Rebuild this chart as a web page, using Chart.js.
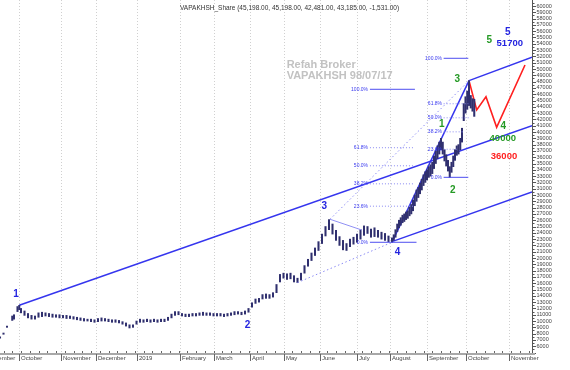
<!DOCTYPE html>
<html>
<head>
<meta charset="utf-8">
<script src="https://cdn.jsdelivr.net/npm/chart.js@4.4.1/dist/chart.umd.min.js"></script>
<style>
html,body{margin:0;padding:0;background:#fff;}
#wrap{width:570px;height:370px;}
</style>
</head>
<body>
<div id="wrap"><canvas id="c" width="570" height="370"></canvas></div>
<script>
// ---------- DATA ----------
// trading-session index of each bar
const sessions = [0,2,4,7,8,10,11,
  12,14,16,18,20,22,24,26,28,30,32,34,36,38,40,42,44,46,48,50,52,54,56,58,60,62,64,66,68,70,
  72,74,76,78,80,82,84,86,88,90,92,94,96,98,100,102,104,106,108,110,112,114,116,118,120,122,124,126,128,130,
  132,134,136,138,140,142,144,146,148,150,152,154,156,158,160,162,164,166,168,170,172,174,176,178,180,182,184,186,188,190,
  192,194,196,198,200,202,204,206,208,210,212,214,216,218,220,222,224,
  225,226,227,228,229,230,231,232,233,234,235,236,237,238,239,240,241,242,243,244,245,246,247,248,249,250,
  251,252,253,254,255,256,257,258,259,260,261,262,263,264,265,266,267,268,269,270,271];
const lows = [7300,7900,9000,10100,10300,11500,11800,
  11300,10900,10500,10300,10300,10600,10700,10800,10700,10600,10600,10500,10500,10400,10400,10300,10200,10100,10000,10000,9900,9800,9900,10000,10000,9900,9800,9800,9700,9500,
  9200,8900,9000,9500,9800,9800,9900,9800,9900,9800,9900,9900,10100,10500,10900,11000,10800,10700,10700,10800,10800,10900,10900,10900,10900,10800,10800,10800,10700,10800,
  10900,11000,11100,11000,11100,11400,12200,12800,13000,13500,13600,13600,13800,14500,16200,16800,16600,16700,16200,16100,16500,17600,18700,19600,20400,21200,22300,23500,24500,23800,
  22800,22000,21300,21200,21800,22200,22500,23000,23600,23900,23300,23400,23300,23000,22800,22600,22500,
  22800,23300,24200,24800,25200,25600,25800,26100,26300,26700,27000,27500,28300,29000,29600,30200,30800,31500,32000,32400,32800,33000,33400,34200,35000,35800,
  36500,37200,36500,35400,34600,33800,32800,33600,34500,35500,36300,36500,37200,38400,41800,43000,43600,44200,43800,43300,42481];
const highs = [7500,8100,9200,10800,11000,12300,12500,
  12000,11600,11200,10900,10800,11300,11400,11300,11200,11100,11000,11000,10900,10900,10800,10700,10600,10500,10400,10300,10300,10200,10400,10500,10400,10300,10200,10200,10100,9900,
  9700,9400,9400,10000,10300,10200,10300,10200,10300,10200,10300,10300,10600,11100,11500,11500,11200,11100,11100,11200,11200,11300,11400,11300,11300,11200,11200,11200,11100,11200,
  11300,11500,11500,11400,11600,12000,12900,13500,13600,14200,14300,14200,14500,15800,17400,17600,17500,17600,17200,16800,17600,18800,19800,20800,21600,22600,23800,25000,26100,25400,
  24400,23400,22800,22300,23000,23300,23800,24500,25100,25000,24600,24800,24400,24100,23900,23500,23200,
  23700,24500,25400,26000,26400,26800,27000,27300,27500,28100,28500,29200,30000,30800,31200,31900,32500,33200,33700,34000,34500,34800,35200,36200,37000,37800,
  38400,39000,38400,37200,36400,35500,34500,35200,36200,37200,37800,38000,39000,40600,44500,45600,46500,48150,45800,45300,45198];

// last bar: open, high, low, close, change
const lastBar = [45198, 45198, 42481, 43185, -1531];

// month axis
const monthNames  = ['September','October','November','December','2019','February','March','April','May','June','July','August','September','October','November'];
const monthStarts = [-9, 11, 35, 55, 78, 103, 122, 143, 162, 183, 204, 223, 244, 266, 291];

// y-axis tick labels
const yTickValues = [];
for (let v = 6000; v <= 60000; v += 1000) yTickValues.push(v);

// trend lines  [session, value] pairs
const line1Pts      = [[11, 12500], [304, 41000]];
const upperChanPts  = [[268, 48150], [304, 51860]];
const lowerChanPts  = [[224, 22600], [304, 30480]];
const steepPts      = [[224, 22500], [268, 48150]];
const lightPts      = [[188.6, 26150], [206.7, 24450]];
const dotLowPts     = [[170, 16100], [224, 22500]];
const dotHighPts    = [[188.6, 26150], [268, 48150]];
const redPathPts    = [[268, 48150], [272.4, 43500], [277.7, 45600], [283.8, 40750], [300, 50640]];

// Fibonacci retracements
const fibRatios = [0, 0.236, 0.382, 0.5, 0.618, 1];
const fibA = {low: 22500, high: 46780};
const fibB = {low: 32810, high: 51700};

// ---------- CHART ----------
const P = (arr) => arr.map(p => ({x: p[0], y: p[1]}));

function fibDatasets(fib, startS, endS) {
  return fibRatios.map((r, i) => {
    const v = fib.low + (fib.high - fib.low) * r;
    const solid = (r === 0 || r === 1);
    return {
      type: 'line',
      data: [{x: startS, y: v}, {x: endS[i], y: v}],
      borderColor: solid ? '#4d4df0' : '#8a8af2',
      borderWidth: 1,
      borderDash: solid ? [] : [1, 2],
      pointRadius: 0
    };
  });
}

const lineDs = (pts, color, width, dash) => ({
  type: 'line', data: P(pts), borderColor: color, borderWidth: width,
  borderDash: dash || [], pointRadius: 0, tension: 0
});

const datasets = [
  lineDs(dotLowPts, '#8c8cf4', 1, [1.5, 2.5]),
  lineDs(dotHighPts, '#8c8cf4', 1, [1.5, 2.5]),
  lineDs(lightPts, '#9090f4', 1),
  ...fibDatasets(fibA, 211.4, [238, 237.1, 237.1, 237.1, 237.1, 237.1]),
  ...fibDatasets(fibB, 253.5, [267.6, 261, 264.7, 268.2, 267.6, 267.6]),
  {
    type: 'bar',
    data: sessions.map((s, i) => ({x: s, y: [lows[i], highs[i]]})),
    backgroundColor: '#30306f',
    borderWidth: 0,
    barThickness: 1.4,
    grouped: false
  },
  lineDs(line1Pts, '#3535ee', 1.5),
  lineDs(upperChanPts, '#3535ee', 1.5),
  lineDs(lowerChanPts, '#3535ee', 1.5),
  lineDs(steepPts, '#3535ee', 1.5),
  lineDs(redPathPts, '#ff1f1f', 1.6)
];

const annotations = [
  {s: 9.1,   v: 14290, t: '1', c: '#2424e0', f: 'bold 10px Arial'},
  {s: 141.5, v: 9375,  t: '2', c: '#2424e0', f: 'bold 10px Arial'},
  {s: 185.3, v: 28260, t: '3', c: '#2424e0', f: 'bold 10px Arial'},
  {s: 227.1, v: 20850, t: '4', c: '#2424e0', f: 'bold 10px Arial'},
  {s: 252.4, v: 41230, t: '1', c: '#259a25', f: 'bold 10px Arial'},
  {s: 258.7, v: 30800, t: '2', c: '#259a25', f: 'bold 10px Arial'},
  {s: 261.3, v: 48415, t: '3', c: '#259a25', f: 'bold 10px Arial'},
  {s: 287.6, v: 40850, t: '4', c: '#259a25', f: 'bold 10px Arial'},
  {s: 279.6, v: 54600, t: '5', c: '#259a25', f: 'bold 10px Arial'},
  {s: 290.1, v: 55870, t: '5', c: '#2424e0', f: 'bold 10px Arial'},
  {s: 291.3, v: 54080, t: '51700', c: '#2424e0', f: 'bold 9.5px Arial'},
  {s: 287.3, v: 39000, t: '40000', c: '#259a25', f: 'bold 9.5px Arial'},
  {s: 288,   v: 36200, t: '36000', c: '#ff1f1f', f: 'bold 9.5px Arial'}
];

const fmt = (n) => n.toLocaleString('en-US', {minimumFractionDigits: 2, maximumFractionDigits: 2});

const decor = {
  id: 'decor',
  beforeDatasetsDraw(chart) {
    const ctx = chart.ctx, xs = chart.scales.x, ys = chart.scales.y, a = chart.chartArea;
    ctx.save();
    ctx.strokeStyle = '#d0d0d0'; ctx.lineWidth = 1; ctx.setLineDash([1, 2]);
    monthStarts.forEach(m => {
      const px = Math.round(xs.getPixelForValue(m)) + 0.5;
      if (px < a.left || px > a.right) return;
      ctx.beginPath(); ctx.moveTo(px, 0); ctx.lineTo(px, a.bottom); ctx.stroke();
    });
    ctx.setLineDash([]);
    const ax = Math.round(a.right) + 0.5;
    ctx.strokeStyle = '#555'; ctx.beginPath(); ctx.moveTo(ax, 0); ctx.lineTo(ax, a.bottom); ctx.stroke();
    ctx.fillStyle = '#444'; ctx.font = '5.5px Arial'; ctx.textAlign = 'left'; ctx.textBaseline = 'middle';
    for (let v = 5000; v <= 60500; v += 500) {
      const py = Math.round(ys.getPixelForValue(v)) + 0.5;
      const major = v % 1000 === 0;
      ctx.beginPath(); ctx.moveTo(ax, py); ctx.lineTo(ax + (major ? 3.5 : 2), py); ctx.stroke();
    }
    yTickValues.forEach(v => ctx.fillText(String(v), ax + 4, ys.getPixelForValue(v)));
    ctx.strokeStyle = '#a8a8a8'; ctx.lineWidth = 2;
    ctx.beginPath(); ctx.moveTo(0, a.bottom); ctx.lineTo(a.right + 3, a.bottom); ctx.stroke();
    ctx.lineWidth = 1; ctx.strokeStyle = '#666';
    for (let s = 2; s < 304; s += 5) {
      const px = Math.round(xs.getPixelForValue(s)) + 0.5;
      ctx.beginPath(); ctx.moveTo(px, a.bottom - 3); ctx.lineTo(px, a.bottom - 1); ctx.stroke();
    }
    ctx.font = '6px Arial'; ctx.fillStyle = '#444'; ctx.textBaseline = 'middle';
    monthStarts.forEach((m, i) => {
      const px = Math.round(xs.getPixelForValue(m)) + 0.5;
      ctx.beginPath(); ctx.moveTo(px, a.bottom); ctx.lineTo(px, a.bottom + 7); ctx.stroke();
      ctx.fillText(monthNames[i], px + 1.5, a.bottom + 4.5);
    });
    ctx.font = '6.5px Arial'; ctx.fillStyle = '#333'; ctx.textBaseline = 'middle';
    ctx.fillText('VAPAKHSH_Share (' + lastBar.map(fmt).join(', ') + ')', 180, 8);
    ctx.font = 'bold 11px Arial'; ctx.fillStyle = '#c2c2c2';
    ctx.fillText('Refah Broker', xs.getPixelForValue(163.8), ys.getPixelForValue(50640));
    ctx.fillText('VAPAKHSH 98/07/17', xs.getPixelForValue(163.8), ys.getPixelForValue(48890));
    ctx.restore();
  },
  afterDatasetsDraw(chart) {
    const ctx = chart.ctx, xs = chart.scales.x, ys = chart.scales.y;
    ctx.save();
    ctx.font = '5px Arial'; ctx.fillStyle = '#3a3af0'; ctx.textAlign = 'right'; ctx.textBaseline = 'middle';
    [[fibA, 210.3], [fibB, 252.6]].forEach(([fib, s]) => {
      fibRatios.forEach(r => {
        const v = fib.low + (fib.high - fib.low) * r;
        ctx.fillText((r * 100).toFixed(1) + '%', xs.getPixelForValue(s), ys.getPixelForValue(v));
      });
    });
    ctx.textAlign = 'center';
    annotations.forEach(an => {
      ctx.font = an.f; ctx.fillStyle = an.c;
      ctx.fillText(an.t, xs.getPixelForValue(an.s), ys.getPixelForValue(an.v));
    });
    ctx.restore();
  }
};

new Chart(document.getElementById('c'), {
  type: 'bar',
  data: {datasets},
  options: {
    responsive: false,
    animation: false,
    events: [],
    layout: {padding: {left: 0, top: 0, right: 38, bottom: 16}},
    plugins: {legend: {display: false}, tooltip: {enabled: false}},
    scales: {
      x: {type: 'linear', min: 0, max: 304, offset: false, display: false},
      y: {type: 'linear', min: 4770, max: 60950, display: false}
    }
  },
  plugins: [decor]
});
</script>
</body>
</html>
